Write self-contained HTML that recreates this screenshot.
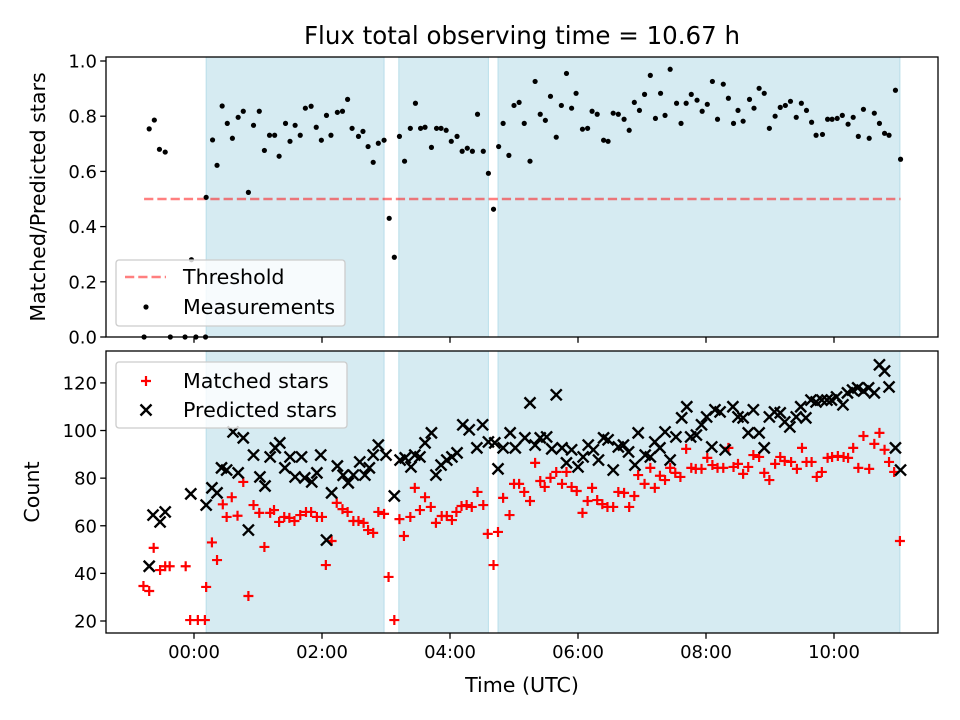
<!DOCTYPE html>
<html><head><meta charset="utf-8"><style>
html,body{margin:0;padding:0;background:#fff;}
svg{display:block;font-family:"DejaVu Sans","Liberation Sans",sans-serif;}
</style></head><body>
<svg id="fig" width="960" height="720" viewBox="0 0 960 720" xmlns="http://www.w3.org/2000/svg">
<rect width="960" height="720" fill="#fff"/>
<text x="522" y="44" font-size="24.5" text-anchor="middle" fill="#000">Flux total observing time = 10.67 h</text>
<text transform="translate(45,197) rotate(-90)" font-size="20.6" text-anchor="middle" fill="#000">Matched/Predicted stars</text>
<text transform="translate(39,492) rotate(-90)" font-size="20.6" text-anchor="middle" fill="#000">Count</text>
<text x="522" y="692" font-size="20.6" text-anchor="middle" fill="#000">Time (UTC)</text>
<g id="top"></g>
<g id="bot"></g>
</svg>
<script>
// shaded observing windows (hours)
const spanStarts = [0.19, 3.2, 4.75];
const spanEnds = [2.97, 4.6, 11.03];
// threshold
const thresholdValue = 0.5;
const thresholdStart = -0.78, thresholdEnd = 11.04;
// ratio measurements
const ratioTimes = [-0.78,-0.70,-0.62,-0.54,-0.45,-0.37,-0.14,-0.04,0.03,0.18,0.19,0.29,0.36,0.44,0.52,0.60,0.69,0.77,0.85,0.93,1.02,1.10,1.18,1.26,1.33,1.43,1.50,1.58,1.66,1.74,1.83,1.91,1.99,2.07,2.14,2.24,2.32,2.40,2.47,2.57,2.64,2.72,2.80,2.88,2.97,3.05,3.13,3.21,3.29,3.38,3.46,3.54,3.61,3.71,3.79,3.86,3.94,4.02,4.11,4.19,4.27,4.35,4.43,4.52,4.60,4.68,4.76,4.83,4.92,5.00,5.08,5.16,5.25,5.33,5.41,5.49,5.57,5.66,5.74,5.82,5.90,5.97,6.07,6.15,6.22,6.30,6.40,6.47,6.55,6.63,6.72,6.80,6.88,6.96,7.04,7.13,7.21,7.29,7.36,7.44,7.54,7.61,7.69,7.77,7.86,7.94,8.02,8.10,8.18,8.27,8.35,8.43,8.50,8.58,8.68,8.75,8.83,8.91,8.99,9.08,9.16,9.24,9.32,9.41,9.49,9.57,9.65,9.72,9.82,9.90,9.97,10.05,10.13,10.22,10.30,10.38,10.46,10.55,10.63,10.71,10.79,10.86,10.96,11.04];
const ratioValues = [0,0.754,0.786,0.68,0.67,0,0,0.28,0,0,0.506,0.714,0.622,0.837,0.774,0.72,0.796,0.818,0.524,0.767,0.818,0.676,0.731,0.731,0.655,0.774,0.709,0.767,0.731,0.829,0.836,0.76,0.713,0.803,0.731,0.814,0.818,0.861,0.756,0.727,0.745,0.69,0.633,0.702,0.713,0.43,0.289,0.727,0.637,0.756,0.847,0.756,0.76,0.687,0.756,0.756,0.749,0.709,0.727,0.673,0.684,0.673,0.807,0.673,0.593,0.463,0.69,0.774,0.658,0.839,0.85,0.774,0.637,0.926,0.807,0.785,0.872,0.724,0.839,0.955,0.829,0.883,0.753,0.756,0.818,0.807,0.713,0.709,0.811,0.807,0.789,0.749,0.85,0.821,0.879,0.948,0.792,0.883,0.803,0.97,0.847,0.774,0.847,0.879,0.858,0.818,0.843,0.926,0.789,0.916,0.865,0.774,0.821,0.782,0.861,0.829,0.901,0.883,0.756,0.80,0.832,0.839,0.854,0.796,0.847,0.821,0.778,0.731,0.734,0.789,0.789,0.792,0.803,0.771,0.796,0.727,0.825,0.72,0.811,0.774,0.738,0.731,0.894,0.644];
// predicted stars
const predTimes = [-0.70,-0.64,-0.53,-0.45,-0.05,0.19,0.28,0.36,0.43,0.51,0.61,0.69,0.77,0.85,0.93,1.03,1.11,1.19,1.27,1.34,1.42,1.50,1.58,1.68,1.73,1.84,1.92,1.98,2.07,2.15,2.24,2.33,2.41,2.49,2.59,2.67,2.74,2.80,2.88,3.00,3.13,3.22,3.30,3.39,3.45,3.53,3.61,3.71,3.78,3.86,3.95,4.03,4.11,4.20,4.30,4.42,4.51,4.60,4.70,4.75,4.83,4.94,5.02,5.17,5.25,5.33,5.41,5.51,5.59,5.66,5.75,5.82,5.90,6.00,6.08,6.16,6.24,6.32,6.40,6.47,6.55,6.63,6.71,6.79,6.89,6.94,7.05,7.13,7.20,7.28,7.36,7.44,7.53,7.62,7.70,7.76,7.85,7.93,8.01,8.09,8.14,8.22,8.30,8.42,8.50,8.58,8.66,8.74,8.83,8.91,8.99,9.07,9.16,9.23,9.31,9.41,9.48,9.56,9.64,9.72,9.81,9.89,9.96,10.04,10.14,10.21,10.29,10.37,10.46,10.54,10.63,10.71,10.79,10.86,10.96,11.04];
const predValues = [43,64.5,61.6,65.8,73.4,68.7,75.9,73.8,84.3,83.4,99.4,82.2,96.9,58.2,89.7,80.5,76.7,88.9,92.7,94.8,84.3,88.9,80.5,88.9,80.1,78.4,82.2,89.7,54,73.8,85.1,81.2,78,81.3,86.8,81.3,84.3,89.7,93.9,89.7,72.5,87.6,88.5,84.7,89.7,88.9,94.8,99,81.3,85.5,87.6,88.9,90.6,102.4,100.3,92.7,102.4,95.2,94.8,83.9,92.7,99,92.7,96.9,111.6,93.9,96.9,97.3,92.3,115,92.7,86.4,91.9,84.7,88.9,93.9,91.9,87.6,96.9,96.1,83.4,93.1,93.9,91,85.5,99,89.7,88.9,95.2,92.7,99.4,87.6,97.3,105.3,110,97.3,98.1,102.4,105.7,93.1,108.7,107.8,91.9,110,105.7,105.3,99,108.7,99,92.7,105.7,107.8,107.4,103.6,101.5,105.7,110,105.3,112.8,112,112.8,112.8,112.8,114.1,110.8,115.8,117,117.9,116.6,117.9,115.8,127.6,125,118.3,92.7,83.4];
// matched stars
const matchTimes = [-0.79,-0.70,-0.63,-0.53,-0.45,-0.38,-0.13,-0.06,0.06,0.17,0.19,0.28,0.36,0.45,0.51,0.59,0.68,0.77,0.85,0.93,1.02,1.10,1.19,1.25,1.33,1.41,1.49,1.57,1.66,1.75,1.83,1.92,2.00,2.06,2.15,2.23,2.32,2.40,2.49,2.57,2.65,2.72,2.80,2.88,2.97,3.04,3.13,3.21,3.28,3.38,3.45,3.53,3.61,3.70,3.78,3.87,3.95,4.03,4.10,4.18,4.26,4.34,4.43,4.52,4.59,4.68,4.75,4.83,4.93,5.00,5.08,5.16,5.25,5.33,5.41,5.48,5.57,5.66,5.75,5.82,5.90,5.98,6.07,6.15,6.22,6.30,6.38,6.46,6.55,6.63,6.72,6.80,6.88,6.94,7.04,7.13,7.20,7.28,7.36,7.44,7.52,7.60,7.69,7.77,7.84,7.93,8.02,8.10,8.18,8.27,8.35,8.43,8.50,8.58,8.66,8.74,8.83,8.91,8.99,9.08,9.16,9.23,9.33,9.42,9.50,9.57,9.65,9.73,9.81,9.90,9.97,10.06,10.15,10.22,10.30,10.38,10.46,10.55,10.63,10.71,10.79,10.86,10.94,11.03];
const matchValues = [34.7,32.6,50.7,41.4,43,43,43,20.4,20.4,20.4,34.3,53,45.6,69,63.7,72,64.2,78.4,30.5,68.7,65.4,51.1,65.4,66.6,61.6,63.7,63.3,62,64.5,65.8,65.8,63.7,63.7,43.5,53.6,69.6,67,65.8,62,62,61.2,58.2,57,65.8,65,38.5,20.4,62.8,55.7,63.7,75.9,66.6,72,67.9,61.2,64.1,64.1,62.4,65.8,68.3,68.7,67.9,74.2,68.7,56.6,43.5,57.4,71.7,64.5,77.6,77.6,74.2,70.4,86.4,78.8,76.3,80.1,82.6,77.6,82.6,76.3,74.6,65.4,70.4,75.9,70.8,69.1,67.9,67.9,74.2,73.8,67.9,72.5,81.3,77.6,84.3,75.9,81,79.2,84.3,82.2,80.5,92.3,84.3,83.9,83.9,88.5,85.5,84.3,84.3,92.7,84.7,86,81.8,84.7,89.7,88.9,82.2,79.2,86,88.9,87.2,86.8,83.9,92.7,86.8,86.8,80.5,82.6,88.5,88.9,89.3,88.9,88.5,92.7,84.3,97.7,83.9,94.4,99,91.9,86.8,82.6,53.6];
// ticks
const xTickHours = [0,2,4,6,8,10];
const xTickLabels = ["00:00","02:00","04:00","06:00","08:00","10:00"];
const topYTicks = [0,0.2,0.4,0.6,0.8,1.0];
const topYLabels = ["0.0","0.2","0.4","0.6","0.8","1.0"];
const botYTicks = [20,40,60,80,100,120];
const botYLabels = ["20","40","60","80","100","120"];

const NS="http://www.w3.org/2000/svg";
const L=106,R=938;
const X0=-1.375,X1=11.625;
const FS=18;
const sx=t=>L+(t-X0)/(X1-X0)*(R-L);
const T={top:57,bot:337,min:0,max:1.0145};
const B={top:351,bot:633,min:14.96,max:133.4};
const sy=(p,v)=>p.bot-(v-p.min)/(p.max-p.min)*(p.bot-p.top);
function mk(parent,tag,attrs){const e=document.createElementNS(NS,tag);for(const k in attrs)e.setAttribute(k,attrs[k]);parent.appendChild(e);return e;}

function panel(g,p,yTicks,yLabels,showX,nameBase){
  mk(g,'rect',{x:L,y:p.top,width:R-L,height:p.bot-p.top,fill:'#fff'});
  for(let i=0;i<spanStarts.length;i++){
    const r=mk(g,'rect',{x:sx(spanStarts[i]),y:p.top,width:sx(spanEnds[i])-sx(spanStarts[i]),height:p.bot-p.top,fill:'rgba(173,216,230,0.5)',stroke:'rgba(173,216,230,0.8)','stroke-width':1});
    
    
  }
  for(let i=0;i<yTicks.length;i++){
    const y=sy(p,yTicks[i]);
    mk(g,'line',{x1:L-5.8,x2:L,y1:y,y2:y,stroke:'#000','stroke-width':1.3});
    const t=mk(g,'text',{x:L-9,y:y+6.5,'font-size':FS,'text-anchor':'end',fill:'#000'});
    t.textContent=yLabels[i];
    
    
  }
  for(let i=0;i<xTickHours.length;i++){
    const x=sx(xTickHours[i]);
    mk(g,'line',{x1:x,x2:x,y1:p.bot,y2:p.bot+5.8,stroke:'#000','stroke-width':1.3});
    if(showX){
      const t=mk(g,'text',{x:x,y:p.bot+25,'font-size':FS,'text-anchor':'middle',fill:'#000'});
      t.textContent=xTickLabels[i];
      
      
    }
  }
}
function frame(g,p){mk(g,'rect',{x:L,y:p.top,width:R-L,height:p.bot-p.top,fill:'none',stroke:'#000','stroke-width':1.3});}
function plus(g,x,y){return mk(g,'path',{d:`M${x-5},${y}H${x+5}M${x},${y-5}V${y+5}`,stroke:'#f00','stroke-width':2.2,fill:'none'});}
function cross(g,x,y){return mk(g,'path',{d:`M${x-5.5},${y-5.5}L${x+5.5},${y+5.5}M${x-5.5},${y+5.5}L${x+5.5},${y-5.5}`,stroke:'#000','stroke-width':2.4,fill:'none'});}

const gt=document.getElementById('top'), gb=document.getElementById('bot');
panel(gt,T,topYTicks,topYLabels,false,'top');
panel(gb,B,botYTicks,botYLabels,true,'bottom');

const th=mk(gt,'line',{x1:sx(thresholdStart),x2:sx(thresholdEnd),y1:sy(T,thresholdValue),y2:sy(T,thresholdValue),stroke:'rgba(255,0,0,0.5)','stroke-width':2.5,'stroke-dasharray':'9.25 4'});


for(let i=0;i<ratioTimes.length;i++){
  const c=mk(gt,'circle',{cx:sx(ratioTimes[i]),cy:sy(T,ratioValues[i]),r:2.6,fill:'#000'});
  
  
}
for(let i=0;i<matchTimes.length;i++){
  const e=plus(gb,sx(matchTimes[i]),sy(B,matchValues[i]));
  
  
}
for(let i=0;i<predTimes.length;i++){
  const e=cross(gb,sx(predTimes[i]),sy(B,predValues[i]));
  
  
}
frame(gt,T);frame(gb,B);

const LF=20.6;
const lg1=mk(gt,'g',{});


mk(lg1,'rect',{x:116,y:260,width:229,height:66,rx:3,fill:'rgba(255,255,255,0.8)',stroke:'#ccc','stroke-width':1.3});
mk(lg1,'line',{x1:125,x2:166,y1:277,y2:277,stroke:'rgba(255,0,0,0.5)','stroke-width':2.5,'stroke-dasharray':'9.25 4'});
const t1=mk(lg1,'text',{x:183,y:284,'font-size':LF,fill:'#000'});t1.textContent='Threshold';
mk(lg1,'circle',{cx:146,cy:307,r:2.6,fill:'#000'});
const t2=mk(lg1,'text',{x:183,y:314,'font-size':LF,fill:'#000'});t2.textContent='Measurements';

const lg2=mk(gb,'g',{});


mk(lg2,'rect',{x:116,y:362,width:231,height:66,rx:3,fill:'rgba(255,255,255,0.8)',stroke:'#ccc','stroke-width':1.3});
plus(lg2,146,381);
const t3=mk(lg2,'text',{x:183,y:388,'font-size':LF,fill:'#000'});t3.textContent='Matched stars';
cross(lg2,146,410);
const t4=mk(lg2,'text',{x:183,y:417,'font-size':LF,fill:'#000'});t4.textContent='Predicted stars';
</script>
</body></html>
